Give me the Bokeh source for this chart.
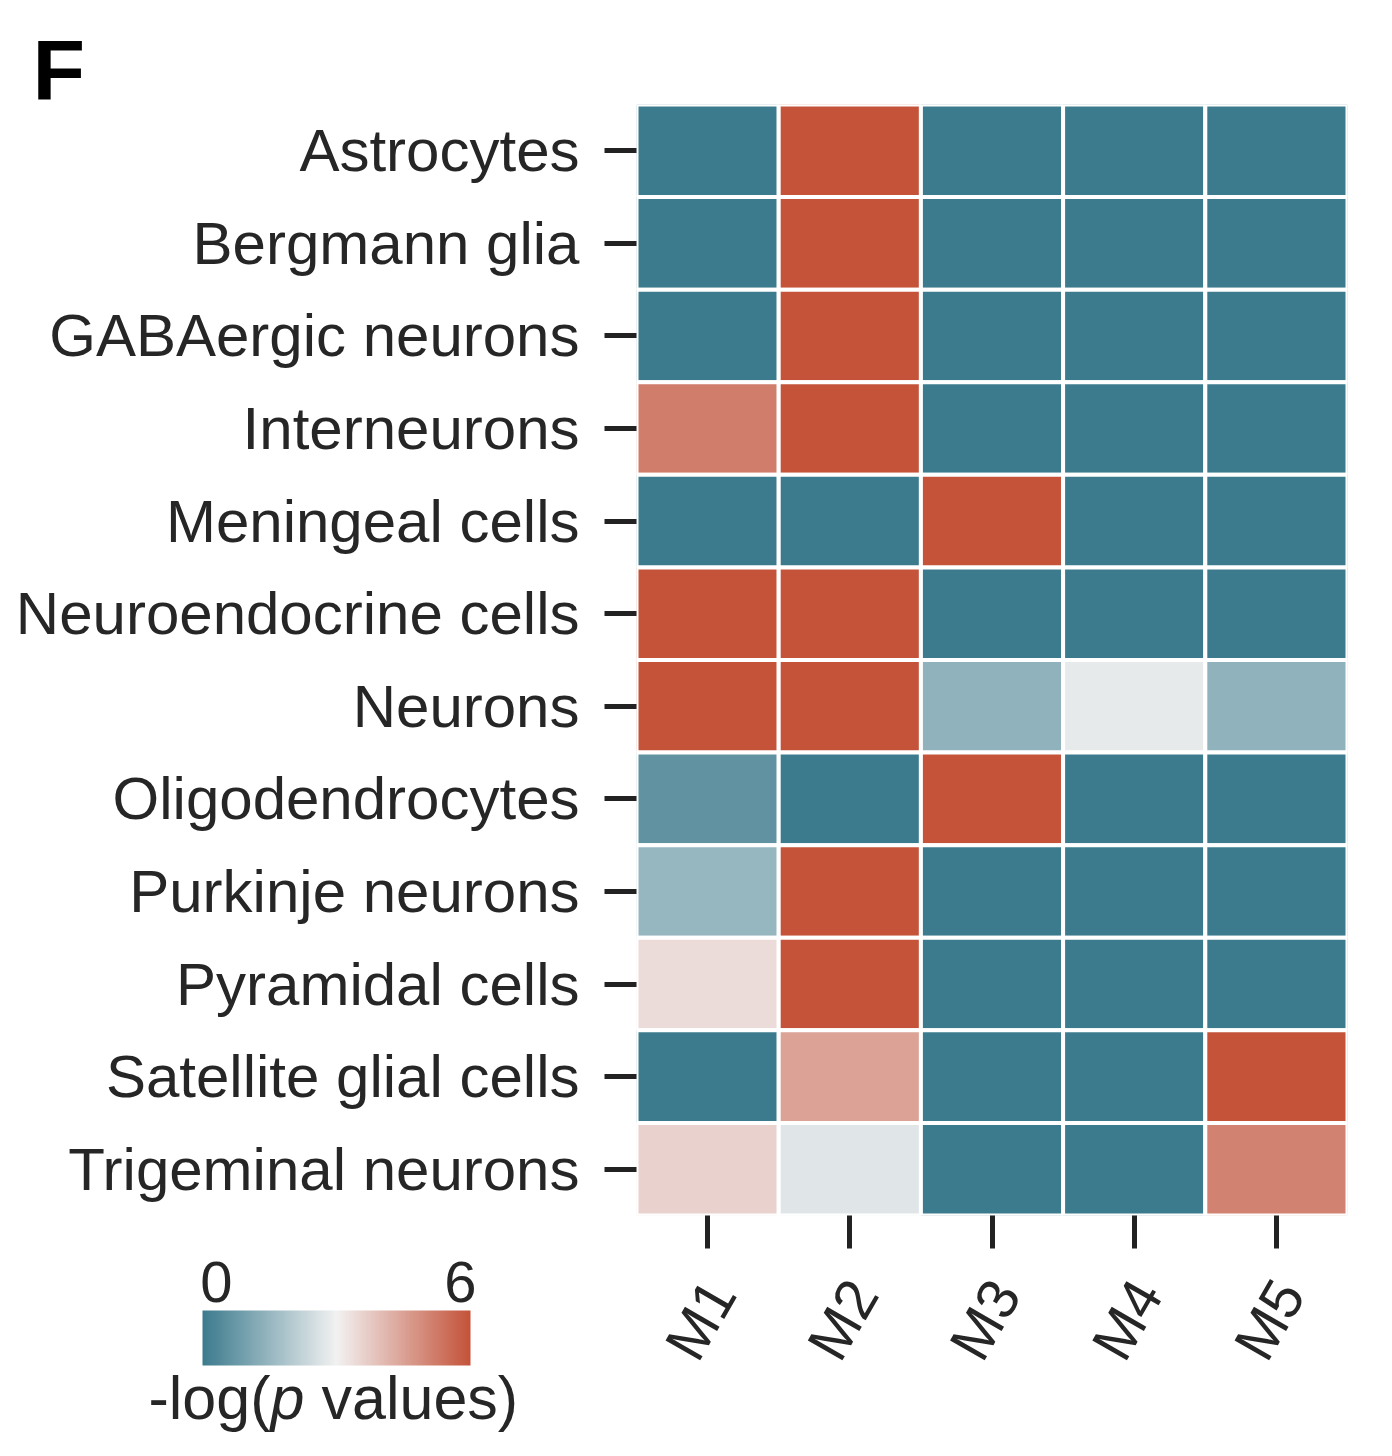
import math
from bokeh.plotting import figure
from bokeh.models import (ColumnDataSource, LinearColorMapper, ColorBar,
                          FixedTicker, Range1d, LinearAxis, CustomJSTickFormatter)
from bokeh.transform import transform
from bokeh.embed import file_html
from bokeh.resources import INLINE

# ---------------- data ----------------
cell_types = ["Astrocytes", "Bergmann glia", "GABAergic neurons", "Interneurons",
              "Meningeal cells", "Neuroendocrine cells", "Neurons", "Oligodendrocytes",
              "Purkinje neurons", "Pyramidal cells", "Satellite glial cells",
              "Trigeminal neurons"]
modules = ["M1", "M2", "M3", "M4", "M5"]
neg_log_p = [
    [0.0, 6.0, 0.0, 0.0, 0.0],   # Astrocytes
    [0.0, 6.0, 0.0, 0.0, 0.0],   # Bergmann glia
    [0.0, 6.0, 0.0, 0.0, 0.0],   # GABAergic neurons
    [5.2, 6.0, 0.0, 0.0, 0.0],   # Interneurons
    [0.0, 0.0, 6.0, 0.0, 0.0],   # Meningeal cells
    [6.0, 6.0, 0.0, 0.0, 0.0],   # Neuroendocrine cells
    [6.0, 6.0, 1.4, 2.8, 1.4],   # Neurons
    [0.6, 0.0, 6.0, 0.0, 0.0],   # Oligodendrocytes
    [1.5, 6.0, 0.0, 0.0, 0.0],   # Purkinje neurons
    [3.4, 6.0, 0.0, 0.0, 0.0],   # Pyramidal cells
    [0.0, 4.5, 0.0, 0.0, 6.0],   # Satellite glial cells
    [3.6, 2.7, 0.0, 0.0, 5.1],   # Trigeminal neurons
]
scale_low, scale_high = 0, 6
panel_letter = "F"
caption_parts = ["-log(", "p", "values)"]

# ---------------- palette ----------------
low_rgb, mid_rgb, high_rgb = (60, 123, 142), (242, 242, 242), (196, 83, 58)


def lerp(a, b, t):
    return tuple(int(round(a[k] + (b[k] - a[k]) * t)) for k in range(3))


palette = []
n = 256
for i in range(n):
    t = i / (n - 1)
    c = lerp(low_rgb, mid_rgb, t * 2) if t <= 0.5 else lerp(mid_rgb, high_rgb, (t - 0.5) * 2)
    palette.append("#%02x%02x%02x" % c)

mapper = LinearColorMapper(palette=palette, low=scale_low, high=scale_high)

nm = len(modules)
xs, ys, vs = [], [], []
for i, ct in enumerate(cell_types):
    for j, m in enumerate(modules):
        xs.append(j + 0.5)
        ys.append(ct)
        vs.append(neg_log_p[i][j])
src = ColumnDataSource(dict(x=xs, y=ys, v=vs))

FONT = "Liberation Sans"
TXT = "#262626"

p = figure(width=1384, height=1448, x_range=Range1d(0, nm), y_range=list(reversed(cell_types)),
           output_backend="svg", toolbar_location=None,
           min_border_left=636, min_border_right=37, min_border_top=104, min_border_bottom=233)
p.outline_line_color = None
p.grid.grid_line_color = None
p.background_fill_color = "white"

p.rect(x="x", y="y", width=1, height=1, source=src,
       fill_color=transform("v", mapper), line_color="white", line_width=4)

for ax in (p.xaxis, p.yaxis):
    ax.axis_line_color = None
    ax.major_tick_in = 0
    ax.major_tick_line_width = 5
    ax.major_tick_line_color = "#222222"
    ax.major_label_text_font = FONT
    ax.major_label_text_color = TXT

p.yaxis.major_label_text_font_size = "60px"
p.yaxis.major_tick_out = 32
p.yaxis.major_label_standoff = 25

# x axis: ticks only, one per module
p.xaxis.ticker = FixedTicker(ticks=[j + 0.5 for j in range(nm)])
p.xaxis.formatter = CustomJSTickFormatter(code="return '';")
p.xaxis.minor_tick_line_color = None
p.xaxis.major_tick_out = 33
p.xaxis.major_label_standoff = 0
p.xaxis.major_label_text_font_size = "0px"

# label axis (slightly shifted so rotated labels centre on their ticks)
label_shift = 0.09
p.extra_x_ranges = {"mlabels": Range1d(start=-0.5 - label_shift, end=nm - 0.5 - label_shift)}
lab_axis = LinearAxis(x_range_name="mlabels",
                      ticker=FixedTicker(ticks=list(range(nm))),
                      major_label_overrides={j: m for j, m in enumerate(modules)},
                      axis_line_color=None, major_tick_line_color=None,
                      major_tick_in=0, major_tick_out=0, minor_tick_line_color=None,
                      major_label_text_font=FONT, major_label_text_font_size="58px",
                      major_label_text_color=TXT, major_label_standoff=36,
                      major_label_orientation=math.pi / 3)
p.add_layout(lab_axis, "below")

# ---------------- colour bar ----------------
cb = ColorBar(color_mapper=mapper, orientation="horizontal", width=268, height=55,
              location=(-434, -150), padding=0, ticker=FixedTicker(ticks=[]),
              major_tick_line_color=None, minor_tick_line_color=None,
              label_standoff=0, bar_line_color=None, border_line_color=None,
              background_fill_color=None, title=None)
p.add_layout(cb, "center")

# end labels of the colour bar ("0" and "6"), above the bar
cb_ends = ColorBar(color_mapper=LinearColorMapper(palette=palette, low=scale_low, high=scale_high),
                   orientation="horizontal", width=244, height=1, location=(-420, -89),
                   padding=0, scale_alpha=0, ticker=FixedTicker(ticks=[scale_low, scale_high]),
                   major_tick_line_color=None, minor_tick_line_color=None,
                   major_tick_out=0, label_standoff=0,
                   major_label_text_font=FONT, major_label_text_font_size="58px",
                   major_label_text_color=TXT, bar_line_color=None,
                   border_line_color=None, background_fill_color=None, title=None)
p.add_layout(cb_ends, "center")


def text_carrier(text, x, y, size, style="normal", color=TXT):
    """An invisible colour bar whose title carries a free-standing text."""
    c = ColorBar(color_mapper=LinearColorMapper(palette=["#ffffff"], low=0, high=1),
                 orientation="horizontal", width=30, height=1, location=(x, y),
                 padding=0, scale_alpha=0, ticker=FixedTicker(ticks=[]),
                 major_tick_line_color=None, minor_tick_line_color=None,
                 label_standoff=0, bar_line_color=None, border_line_color=None,
                 background_fill_color=None, title=text, title_standoff=0,
                 title_text_font=FONT, title_text_font_size=size,
                 title_text_font_style=style, title_text_color=color)
    p.add_layout(c, "center")


text_carrier(panel_letter, -604, 1097, "86px", style="bold", color="#000000")
text_carrier(caption_parts[0], -488, -217, "61px")
text_carrier(caption_parts[1], -366, -217, "61px", style="italic")
text_carrier(caption_parts[2], -315, -217, "61px")

open("out.html", "w").write(file_html(p, INLINE))
